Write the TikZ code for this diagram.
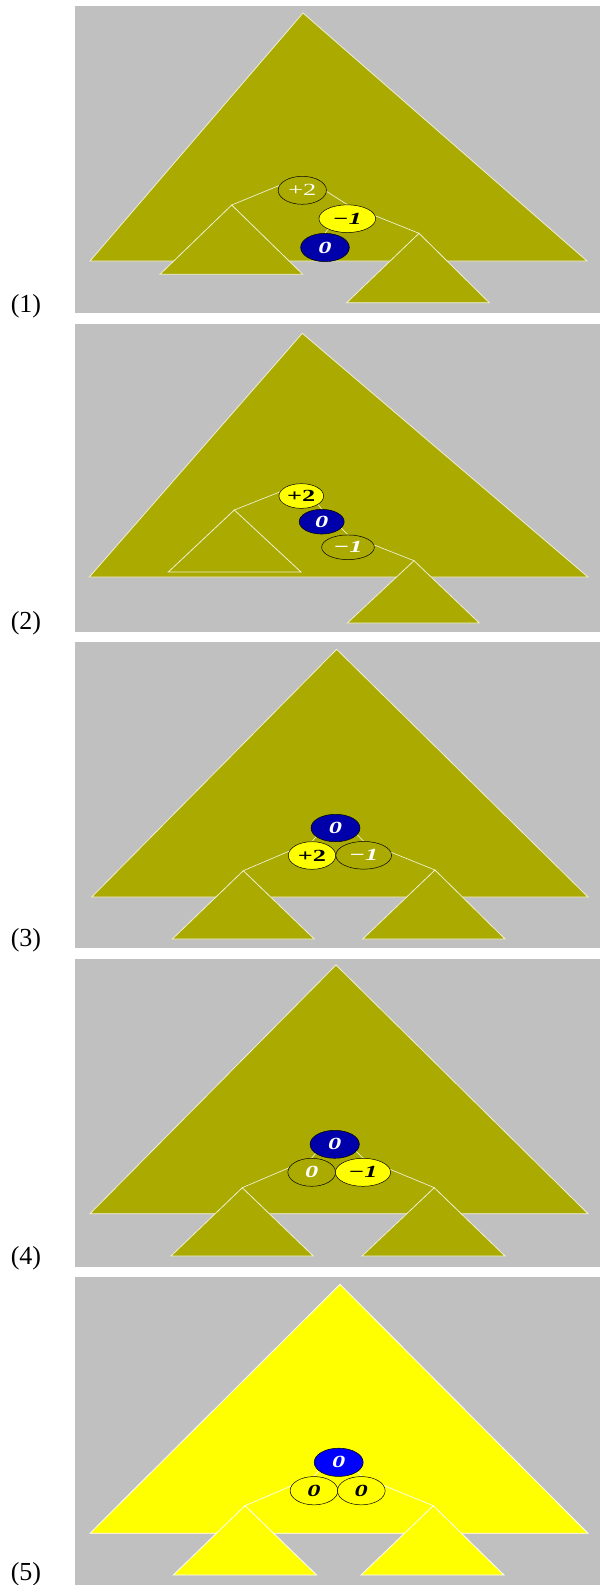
\documentclass[tikz,border=0pt]{standalone}
\usepackage{fontspec}
\setmainfont{Liberation Serif}
\usetikzlibrary{shapes.geometric}
\definecolor{bgg}{HTML}{C0C0C0}
\definecolor{oliv}{HTML}{AAAA00}
\definecolor{yel}{HTML}{FFFF00}
\definecolor{dblu}{HTML}{0000AA}
\definecolor{bblu}{HTML}{0000FF}
\definecolor{lite}{RGB}{240,240,210}
\newcommand{\wide}[1]{\scalebox{1.55}[1]{#1}}
\pgfdeclarelayer{front}
\pgfsetlayers{main,front}
\begin{document}
\begin{tikzpicture}[x=1pt,y=-1pt,
  tri/.style={draw=lite, line width=0.8pt, line join=miter},
  link/.style={draw=lite, line width=0.7pt},
  bal/.style={ellipse, draw=black, line width=0.5pt, inner sep=0pt,
    font=\fontsize{17}{17}\selectfont\bfseries\itshape},
  lab/.style={font=\fontsize{26}{26}\selectfont, inner sep=0pt}]
\useasboundingbox (0,0) rectangle (600,1585);
\fill[white] (0,0) rectangle (600,1585);

% ---------- panel 1 ----------
\fill[bgg] (75,6) rectangle (600,313.3);
\filldraw[tri, fill=oliv] (303,13) -- (90,261) -- (587,261) -- cycle;
\filldraw[tri, fill=oliv] (231.7,205) coordinate (L1) -- (160,274.3) -- (302.7,274.3) -- cycle;
\filldraw[tri, fill=oliv] (419,233.3) coordinate (R1) -- (346.7,302.7) -- (489.3,302.7) -- cycle;
\begin{pgfonlayer}{front}
\node[bal, fill=oliv, text=white, minimum width=48.3pt, minimum height=28pt] (a1) at (302.3,190.3) {\upshape\mdseries\wide{+2}};
\node[bal, fill=yel, text=black, minimum width=56.7pt, minimum height=27.7pt] (b1) at (347.3,218.7) {\wide{−1}};
\node[bal, fill=dblu, text=white, minimum width=48.7pt, minimum height=28.3pt] (c1) at (325,247.5) {\wide{0}};
\end{pgfonlayer}
\draw[link] (a1.north) -- (L1);
\draw[link] (a1.north) -- (b1.north);
\draw[link] (b1.north) -- (c1.north);
\draw[link] (b1.north) -- (R1);
\node[lab] (n1) at (26,306) {(1)};

% ---------- panel 2 ----------
\fill[bgg] (75,324) rectangle (600,631.7);
\filldraw[tri, fill=oliv] (302.3,333.3) -- (89.3,577) -- (588,577) -- cycle;
\filldraw[tri, fill=oliv] (234.3,510) coordinate (L2) -- (168.3,572) -- (301,572) -- cycle;
\filldraw[tri, fill=oliv] (414,560.7) coordinate (R2) -- (347.3,623) -- (479.3,623) -- cycle;
\begin{pgfonlayer}{front}
\node[bal, fill=yel, text=black, minimum width=44.7pt, minimum height=24.7pt] (a2) at (301.3,496) {\upshape\wide{+2}};
\node[bal, fill=dblu, text=white, minimum width=45pt, minimum height=24.7pt] (c2) at (321.7,521.7) {\wide{0}};
\node[bal, fill=oliv, text=white, minimum width=52.7pt, minimum height=24.7pt] (b2) at (348,547.3) {\wide{−1}};
\end{pgfonlayer}
\draw[link] (a2.north) -- (L2);
\draw[link] (a2.north) -- (c2.north);
\draw[link] (c2.north) -- (b2.north);
\draw[link] (b2.north) -- (R2);
\node[lab] (n2) at (26,623) {(2)};

% ---------- panel 3 ----------
\fill[bgg] (75,642.3) rectangle (600,948.3);
\filldraw[tri, fill=oliv] (336.7,649.3) -- (91.7,897) -- (588,897) -- cycle;
\filldraw[tri, fill=oliv] (243.3,870.7) coordinate (L3) -- (172.3,939) -- (314.3,939) -- cycle;
\filldraw[tri, fill=oliv] (435,870) coordinate (R3) -- (362.7,939) -- (505,939) -- cycle;
\begin{pgfonlayer}{front}
\node[bal, fill=dblu, text=white, minimum width=49pt, minimum height=27.5pt] (c3) at (335.5,828) {\wide{0}};
\node[bal, fill=yel, text=black, minimum width=47.4pt, minimum height=27.6pt] (a3) at (312,855.5) {\upshape\wide{+2}};
\node[bal, fill=oliv, text=white, minimum width=55.7pt, minimum height=27.7pt] (b3) at (363.7,855.3) {\wide{−1}};
\end{pgfonlayer}
\draw[link] (c3.north) -- (a3.north);
\draw[link] (c3.north) -- (b3.north);
\draw[link] (a3.north) -- (L3);
\draw[link] (b3.north) -- (R3);
\node[lab] (n3) at (26,940) {(3)};

% ---------- panel 4 ----------
\fill[bgg] (75,959) rectangle (600,1266.7);
\filldraw[tri, fill=oliv] (336,965) -- (90,1213.7) -- (588,1213.7) -- cycle;
\filldraw[tri, fill=oliv] (242.3,1187.7) coordinate (L4) -- (171,1256) -- (313.3,1256) -- cycle;
\filldraw[tri, fill=oliv] (434.3,1187.7) coordinate (R4) -- (362,1256) -- (505,1256) -- cycle;
\begin{pgfonlayer}{front}
\node[bal, fill=dblu, text=white, minimum width=49.3pt, minimum height=28pt] (c4) at (334.7,1144.3) {\wide{0}};
\node[bal, fill=oliv, text=white, minimum width=47.7pt, minimum height=28pt] (a4) at (311.7,1172.3) {\wide{0}};
\node[bal, fill=yel, text=black, minimum width=55.3pt, minimum height=28pt] (b4) at (363,1172.3) {\wide{−1}};
\end{pgfonlayer}
\draw[link] (c4.north) -- (a4.north);
\draw[link] (c4.north) -- (b4.north);
\draw[link] (a4.north) -- (L4);
\draw[link] (b4.north) -- (R4);
\node[lab] (n4) at (26,1258) {(4)};

% ---------- panel 5 ----------
\fill[bgg] (75,1277) rectangle (600,1585);
\filldraw[tri, draw=white, fill=yel] (340,1284.3) -- (90,1533.3) -- (588,1533.3) -- cycle;
\filldraw[tri, draw=white, fill=yel] (245,1505.7) coordinate (L5) -- (173.3,1575) -- (316.7,1575) -- cycle;
\filldraw[tri, draw=white, fill=yel] (433.3,1505.7) coordinate (R5) -- (361,1575) -- (504,1575) -- cycle;
\begin{pgfonlayer}{front}
\node[bal, fill=bblu, text=white, minimum width=49pt, minimum height=28.3pt] (c5) at (338.7,1462.3) {\wide{0}};
\node[bal, fill=yel, text=black, minimum width=47.7pt, minimum height=28.3pt] (a5) at (314,1490.7) {\wide{0}};
\node[bal, fill=yel, text=black, minimum width=47.7pt, minimum height=28.3pt] (b5) at (361.3,1490.7) {\wide{0}};
\end{pgfonlayer}
\draw[link, draw=white] (c5.north) -- (a5.north);
\draw[link, draw=white] (c5.north) -- (b5.north);
\draw[link, draw=white] (a5.north) -- (L5);
\draw[link, draw=white] (b5.north) -- (R5);
\node[lab] (n5) at (26,1574) {(5)};
\end{tikzpicture}
\end{document}
